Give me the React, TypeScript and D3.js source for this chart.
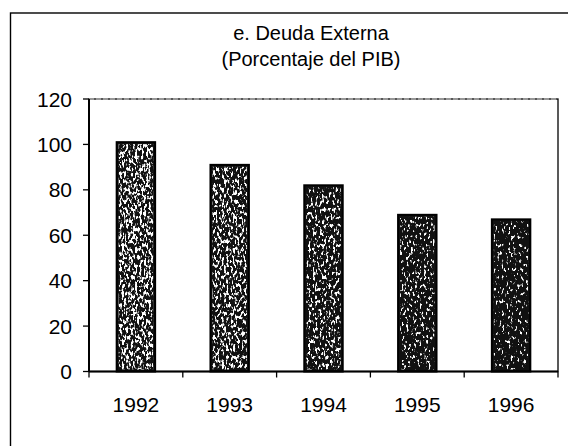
import React from "react";
import * as d3 from "d3";

const years = ["1992", "1993", "1994", "1995", "1996"];
const deuda = [101, 91, 82, 69, 67];
const yTicks = [0, 20, 40, 60, 80, 100, 120];
const titleLines = ["e. Deuda Externa", "(Porcentaje del PIB)"];

// threshold for white specks in each bar (scan texture gets darker to the right)
const speckle = [0.51, 0.49, 0.46, 0.42, 0.4];

const W = 568;
const H = 446;
const plot = { left: 89, right: 558, top: 99, bottom: 371.5 };
const font = "Arial, 'Liberation Sans', Helvetica, sans-serif";

export default function App() {
  const x = d3
    .scaleBand<string>()
    .domain(years)
    .range([plot.left, plot.right])
    .paddingInner(0.59)
    .paddingOuter(0.295);

  const y = d3.scaleLinear().domain([0, 120]).range([plot.bottom, plot.top]);

  const step = x.step();
  const catEdges = d3.range(years.length + 1).map((i) => plot.left + i * step);

  return (
    <svg
      width={W}
      height={H}
      style={{ position: "absolute", left: 0, top: 0, background: "#fff" }}
    >
      <defs>
        {speckle.map((t, i) => (
          <filter
            key={i}
            id={`speck${i}`}
            x="0"
            y="0"
            width="1"
            height="1"
            filterUnits="objectBoundingBox"
          >
            <feTurbulence
              type="fractalNoise"
              baseFrequency="0.45 0.25"
              numOctaves={2}
              seed={i * 7 + 3}
              result="noise"
            />
            <feColorMatrix
              in="noise"
              type="matrix"
              values={`0 0 0 0 1  0 0 0 0 1  0 0 0 0 1  -9 0 0 0 ${9 * t}`}
              result="spots"
            />
            <feComposite in="spots" in2="SourceGraphic" operator="in" />
          </filter>
        ))}
      </defs>

      {/* outer frame (runs past the right and bottom edge in the scan) */}
      <rect
        x={10.5}
        y={13}
        width={W + 20}
        height={H + 20}
        fill="none"
        stroke="#000"
        strokeWidth={1.4}
      />

      {/* title */}
      {titleLines.map((t, i) => (
        <text
          key={i}
          x={311}
          y={40 + i * 26}
          textAnchor="middle"
          fontFamily={font}
          fontSize={20}
          fill="#000"
        >
          {t}
        </text>
      ))}

      {/* plot area */}
      <rect
        x={plot.left}
        y={plot.top}
        width={plot.right - plot.left}
        height={plot.bottom - plot.top}
        fill="none"
        stroke="#000"
        strokeWidth={1.3}
      />
      <line
        x1={plot.left}
        x2={plot.right}
        y1={plot.top}
        y2={plot.top}
        stroke="#fff"
        strokeWidth={1.3}
        strokeDasharray="5 2"
        opacity={0.5}
      />

      {/* bars */}
      {years.map((yr, i) => {
        const bx = x(yr) ?? 0;
        const by = y(deuda[i]);
        const bh = y(0) - by;
        return (
          <g key={yr}>
            <rect
              x={bx}
              y={by}
              width={x.bandwidth()}
              height={bh}
              fill="#111"
              stroke="#000"
              strokeWidth={2}
            />
            <rect
              x={bx + 2}
              y={by + 2}
              width={x.bandwidth() - 4}
              height={bh - 4}
              fill="#000"
              filter={`url(#speck${i})`}
            />
          </g>
        );
      })}

      {/* y axis */}
      <line
        x1={plot.left}
        x2={plot.left}
        y1={plot.top}
        y2={plot.bottom}
        stroke="#000"
        strokeWidth={2}
      />
      {yTicks.map((v) => (
        <g key={v}>
          <line
            x1={plot.left - 6}
            x2={plot.left}
            y1={y(v)}
            y2={y(v)}
            stroke="#000"
            strokeWidth={1.3}
          />
          <text
            x={72}
            y={y(v) + 7.5}
            textAnchor="end"
            fontFamily={font}
            fontSize={21}
            fill="#000"
          >
            {v}
          </text>
        </g>
      ))}

      {/* x axis */}
      <line
        x1={plot.left}
        x2={plot.right}
        y1={plot.bottom}
        y2={plot.bottom}
        stroke="#000"
        strokeWidth={2}
      />
      {catEdges.map((ex, i) => (
        <line
          key={i}
          x1={ex}
          x2={ex}
          y1={plot.bottom}
          y2={plot.bottom + 6}
          stroke="#000"
          strokeWidth={1.3}
        />
      ))}
      {years.map((yr) => (
        <text
          key={yr}
          x={(x(yr) ?? 0) + x.bandwidth() / 2}
          y={411.5}
          textAnchor="middle"
          fontFamily={font}
          fontSize={21}
          fill="#000"
        >
          {yr}
        </text>
      ))}
    </svg>
  );
}
